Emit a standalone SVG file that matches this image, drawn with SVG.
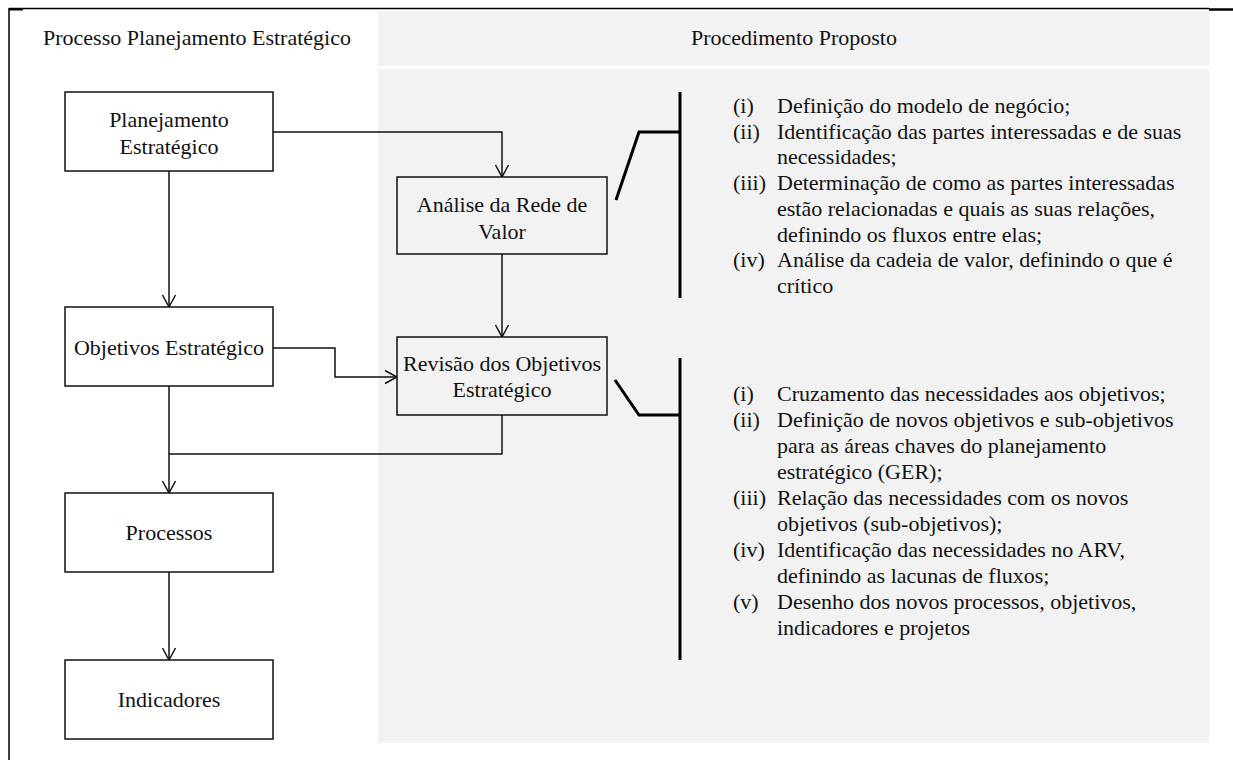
<svg xmlns="http://www.w3.org/2000/svg" width="1233" height="760" viewBox="0 0 1233 760">
<defs>
<style>
text{font-family:"Liberation Serif","Times New Roman",serif;font-size:22px;fill:#111}
.c{text-anchor:middle}
.box{fill:#fff;stroke:#111;stroke-width:1.5}
.boxg{fill:#f2f2f2;stroke:#111;stroke-width:1.5}
.con{fill:none;stroke:#111;stroke-width:1.5}
.br{fill:none;stroke:#000;stroke-width:3}
</style>
<marker id="arr" viewBox="-1 -8 14 16" markerWidth="14" markerHeight="16" refX="12" refY="0" orient="auto" markerUnits="userSpaceOnUse">
<path d="M0,-6.5 L12,0 L0,6.5" fill="none" stroke="#111" stroke-width="1.5"/>
</marker>
</defs>
<rect width="1233" height="760" fill="#fff"/>
<g id="frame">
<line x1="9" y1="8.5" x2="1209" y2="8.5" stroke="#000" stroke-width="1.3"/>
<line x1="9" y1="9.5" x2="23" y2="9.5" stroke="#000" stroke-width="2"/>
<line x1="1209" y1="9.5" x2="1233" y2="9.5" stroke="#000" stroke-width="2.5"/>
<line x1="9" y1="8" x2="9" y2="760" stroke="#000" stroke-width="1.5"/>
<rect x="378" y="11" width="831" height="55" fill="#f2f2f2"/>
<rect x="378" y="69" width="831" height="674" fill="#f2f2f2"/>
</g>
<g id="headers">
<text class="c" x="197" y="45">Processo Planejamento Estratégico</text>
<text class="c" x="794" y="45">Procedimento Proposto</text>
</g>
<g id="connectors">
<path class="con" d="M169,171 V307" marker-end="url(#arr)"/>
<path class="con" d="M273,132 H502 V177" marker-end="url(#arr)"/>
<path class="con" d="M502,254 V337" marker-end="url(#arr)"/>
<path class="con" d="M273,348 H335 V377 H397" marker-end="url(#arr)"/>
<path class="con" d="M502,415 V454 H169"/>
<path class="con" d="M169,386 V493" marker-end="url(#arr)"/>
<path class="con" d="M169,572 V660" marker-end="url(#arr)"/>
</g>
<g id="node-planejamento">
<rect class="box" x="65" y="92" width="208" height="79"/>
<text class="c" x="169" y="127">Planejamento</text>
<text class="c" x="169" y="154">Estratégico</text>
</g>
<g id="node-objetivos">
<rect class="box" x="65" y="307" width="208" height="79"/>
<text class="c" x="169" y="355">Objetivos Estratégico</text>
</g>
<g id="node-processos">
<rect class="box" x="65" y="493" width="208" height="79"/>
<text class="c" x="169" y="540">Processos</text>
</g>
<g id="node-indicadores">
<rect class="box" x="65" y="660" width="208" height="79"/>
<text class="c" x="169" y="707">Indicadores</text>
</g>
<g id="node-analise">
<rect class="boxg" x="397" y="177" width="210" height="77"/>
<text class="c" x="502" y="212">Análise da Rede de</text>
<text class="c" x="502" y="239">Valor</text>
</g>
<g id="node-revisao">
<rect class="boxg" x="397" y="337" width="210" height="78"/>
<text class="c" x="502" y="371">Revisão dos Objetivos</text>
<text class="c" x="502" y="397">Estratégico</text>
</g>
<g id="bracket-1">
<line class="br" x1="680" y1="92" x2="680" y2="298"/>
<polyline class="br" points="680,132 639,132 616,200"/>
</g>
<g id="bracket-2">
<line class="br" x1="680" y1="358" x2="680" y2="660"/>
<polyline class="br" points="680,415 639,415 615,380"/>
</g>
<g id="list-1">
<text x="733" y="113">(i)</text><text x="777" y="113">Definição do modelo de negócio;</text>
<text x="733" y="138.7">(ii)</text><text x="777" y="138.7">Identificação das partes interessadas e de suas</text>
<text x="777" y="164.4">necessidades;</text>
<text x="733" y="190.1">(iii)</text><text x="777" y="190.1">Determinação de como as partes interessadas</text>
<text x="777" y="215.8">estão relacionadas e quais as suas relações,</text>
<text x="777" y="241.5">definindo os fluxos entre elas;</text>
<text x="733" y="267.2">(iv)</text><text x="777" y="267.2">Análise da cadeia de valor, definindo o que é</text>
<text x="777" y="292.9">crítico</text>
</g>
<g id="list-2">
<text x="733" y="401">(i)</text><text x="777" y="401">Cruzamento das necessidades aos objetivos;</text>
<text x="733" y="427">(ii)</text><text x="777" y="427">Definição de novos objetivos e sub-objetivos</text>
<text x="777" y="453">para as áreas chaves do planejamento</text>
<text x="777" y="479">estratégico (GER);</text>
<text x="733" y="505">(iii)</text><text x="777" y="505">Relação das necessidades com os novos</text>
<text x="777" y="531">objetivos (sub-objetivos);</text>
<text x="733" y="557">(iv)</text><text x="777" y="557">Identificação das necessidades no ARV,</text>
<text x="777" y="583">definindo as lacunas de fluxos;</text>
<text x="733" y="609">(v)</text><text x="777" y="609">Desenho dos novos processos, objetivos,</text>
<text x="777" y="635">indicadores e projetos</text>
</g>
</svg>
